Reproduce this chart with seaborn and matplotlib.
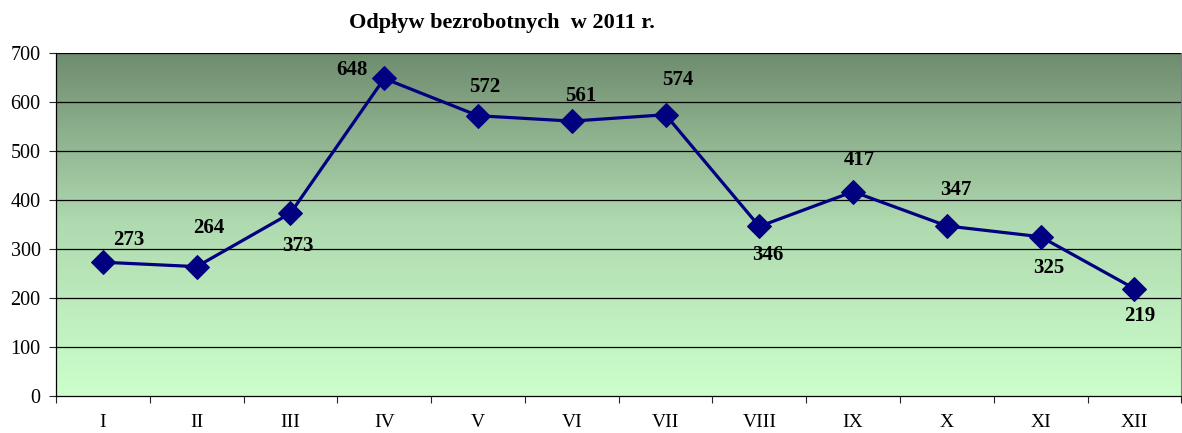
import numpy as np
import pandas as pd
import seaborn as sns
from matplotlib import pyplot as plt
from matplotlib.colors import LinearSegmentedColormap

months = ['I', 'II', 'III', 'IV', 'V', 'VI', 'VII', 'VIII', 'IX', 'X', 'XI', 'XII']
values = [273, 264, 373, 648, 572, 561, 574, 346, 417, 347, 325, 219]
# label offsets in pixels
label_dx = [26, 12, 7, -32, 7, 9, 12, 8, 6, 9, 8, 5]
label_dy = [22, 39, -33, 8, 29, 25, 35, -29, 32, 36, -31, -27]

sns.set_style('white')
plt.rcParams['font.family'] = ['Liberation Serif', 'DejaVu Serif']

df = pd.DataFrame({'pos': np.arange(len(months)), 'val': values})

fig = plt.figure(figsize=(11.82, 4.33), dpi=100)
ax = fig.add_axes([0.0474, 0.0855, 0.952, 0.7921])

# gradient background
cmap = LinearSegmentedColormap.from_list('bg', ['#ccffcc', '#b0dab0', '#6f8c6f'])
grad = np.linspace(0, 1, 256).reshape(-1, 1)
ax.imshow(grad, extent=[-0.5, 11.5, 0, 700], origin='lower', aspect='auto',
          cmap=cmap, zorder=0)

for yv in range(100, 800, 100):
    ax.axhline(yv, color='black', linewidth=0.9, zorder=1)

sns.lineplot(data=df, x='pos', y='val', color='#000080', linewidth=2.3,
             marker='D', markersize=12, markeredgecolor='#000080', ax=ax, zorder=3)

for i, v in enumerate(values):
    ax.annotate(str(v), (i, v), xytext=(label_dx[i], label_dy[i]),
                textcoords='offset pixels', ha='center', va='center',
                fontsize=15, fontweight='bold', color='black', zorder=4)

ax.set_xlim(-0.5, 11.5)
ax.set_ylim(0, 700)
ax.set_yticks(np.arange(0, 800, 100))
ax.set_xticks(np.arange(len(months)))
ax.set_xticklabels(months)
ax.set_xticks(np.arange(-0.5, 12, 1), minor=True)
ax.tick_params(axis='x', which='major', length=0, pad=13, labelsize=14)
ax.tick_params(axis='x', which='minor', length=5, width=0.8, direction='out', bottom=True)
ax.tick_params(axis='y', length=5, width=0.8, direction='out', left=True, labelsize=14.5,
               pad=6, labelcolor='black')
ax.tick_params(axis='x', labelcolor='black')
ax.set_xlabel('')
ax.set_ylabel('')

for s in ['left', 'bottom']:
    ax.spines[s].set_color('black')
    ax.spines[s].set_linewidth(0.9)
ax.spines['top'].set_visible(False)
ax.spines['right'].set_color('#808080')
ax.spines['right'].set_linewidth(0.8)

fig.text(0.425, 0.948, 'Odpływ bezrobotnych  w 2011 r.', ha='center', va='center',
         fontsize=16, fontweight='bold', color='black')

fig.savefig('out.png', dpi=100)
